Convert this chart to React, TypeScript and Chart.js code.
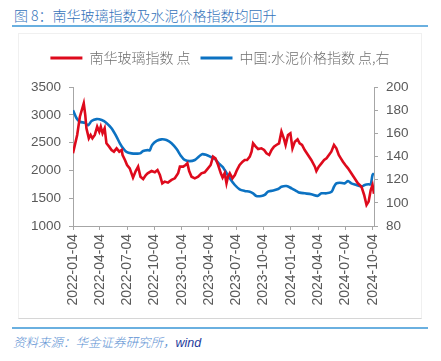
import React, { useEffect, useRef } from "react";
import { Chart, registerables } from "chart.js";

Chart.register(...registerables);

const TITLE = "图 8：南华玻璃指数及水泥价格指数均回升";
const SOURCE_A = "资料来源：华金证券研究所，";
const SOURCE_B = "wind";

const RED_LABEL = "南华玻璃指数 点";
const BLUE_LABEL = "中国:水泥价格指数 点,右";

const TICK_LABELS = [
  "2022-01-04", "2022-04-04", "2022-07-04", "2022-10-04",
  "2023-01-04", "2023-04-04", "2023-07-04", "2023-10-04",
  "2024-01-04", "2024-04-04", "2024-07-04", "2024-10-04",
];

const RED_DATES = [
  "2022-01-04", "2022-01-18", "2022-01-27", "2022-02-09", "2022-02-14", "2022-02-18", "2022-02-26",
  "2022-03-04", "2022-03-10", "2022-03-18", "2022-03-26", "2022-04-02", "2022-04-07", "2022-04-13",
  "2022-04-20", "2022-04-26", "2022-05-05", "2022-05-13", "2022-05-21", "2022-05-30", "2022-06-08",
  "2022-06-16", "2022-06-19", "2022-06-27", "2022-07-04", "2022-07-13", "2022-07-24", "2022-08-02",
  "2022-08-10", "2022-08-18", "2022-08-27", "2022-09-05", "2022-09-11", "2022-09-24", "2022-10-05",
  "2022-10-14", "2022-10-22", "2022-10-30", "2022-11-07", "2022-11-18", "2022-11-30", "2022-12-11",
  "2022-12-22", "2022-12-28", "2023-01-08", "2023-01-16", "2023-01-22", "2023-01-28", "2023-02-05",
  "2023-02-16", "2023-02-27", "2023-03-10", "2023-03-21", "2023-04-01", "2023-04-10", "2023-04-18",
  "2023-04-26", "2023-05-05", "2023-05-14", "2023-05-20", "2023-05-27", "2023-06-02", "2023-06-07",
  "2023-06-13", "2023-06-22", "2023-06-30", "2023-07-07", "2023-07-16", "2023-07-26", "2023-08-02",
  "2023-08-10", "2023-08-19", "2023-08-25", "2023-08-30", "2023-09-08", "2023-09-16", "2023-09-27",
  "2023-10-06", "2023-10-14", "2023-10-23", "2023-10-31", "2023-11-08", "2023-11-16", "2023-11-25",
  "2023-12-03", "2023-12-11", "2023-12-17", "2023-12-25", "2024-01-02", "2024-01-09", "2024-01-17",
  "2024-01-26", "2024-02-02", "2024-02-10", "2024-02-19", "2024-03-01", "2024-03-12", "2024-03-24",
  "2024-03-29", "2024-04-06", "2024-04-15", "2024-04-24", "2024-05-02", "2024-05-10", "2024-05-18",
  "2024-05-27", "2024-06-04", "2024-06-12", "2024-06-19", "2024-06-26", "2024-07-04", "2024-07-13",
  "2024-07-24", "2024-08-04", "2024-08-15", "2024-08-27", "2024-09-05", "2024-09-13", "2024-09-20",
  "2024-09-27", "2024-10-03", "2024-10-08",
];

const RED_VALUES = [
  2310, 2637, 2966, 3207, 3000, 2757, 2577,
  2637, 2577, 2637, 2786, 2697, 2786, 2667,
  2757, 2487, 2427, 2367, 2337, 2397, 2337,
  2367, 2277, 2187, 2097, 2037, 1869, 1989,
  2067, 1887, 1845, 1917, 1948, 1989, 1966,
  2007, 1917, 1768, 1798, 1780, 1828, 1858,
  1948, 2067, 2067, 2097, 2127, 1989, 1887,
  1858, 1887, 1948, 1966, 2037, 2097, 2247,
  2217, 2097, 1948, 1870, 1948, 1768, 1887,
  1948, 1858, 1917, 2007, 2097, 2157, 2187,
  2187, 2247, 2337, 2487, 2427, 2385, 2397,
  2367, 2307, 2277, 2367, 2427, 2457, 2487,
  2697, 2577, 2457, 2637, 2667, 2397, 2517,
  2560, 2487, 2457, 2367, 2277, 2187, 2067,
  1989, 2067, 2127, 2187, 2217, 2277, 2337,
  2457, 2397, 2277, 2217, 2157, 2097, 2037,
  1948, 1858, 1768, 1707, 1558, 1378, 1438,
  1648, 1738, 1580,
];

const BLUE_DATES = [
  "2022-01-04", "2022-01-16", "2022-01-27", "2022-02-13", "2022-02-24", "2022-03-07", "2022-03-24",
  "2022-04-10", "2022-04-26", "2022-05-13", "2022-05-30", "2022-06-10", "2022-06-21", "2022-07-02",
  "2022-07-19", "2022-08-05", "2022-08-16", "2022-08-27", "2022-09-11", "2022-09-18", "2022-09-26",
  "2022-10-11", "2022-10-27", "2022-11-13", "2022-11-30", "2022-12-17", "2022-12-31", "2023-01-13",
  "2023-01-30", "2023-02-16", "2023-03-01", "2023-03-12", "2023-03-27", "2023-04-09", "2023-04-24",
  "2023-05-07", "2023-05-20", "2023-05-27", "2023-06-13", "2023-06-30", "2023-07-16", "2023-08-02",
  "2023-08-19", "2023-08-30", "2023-09-10", "2023-09-27", "2023-10-08", "2023-10-19", "2023-11-05",
  "2023-11-22", "2023-12-03", "2023-12-20", "2024-01-06", "2024-01-26", "2024-02-02", "2024-02-19",
  "2024-03-12", "2024-04-02", "2024-04-15", "2024-05-02", "2024-05-19", "2024-05-27", "2024-06-04",
  "2024-06-15", "2024-07-02", "2024-07-13", "2024-07-24", "2024-08-10", "2024-08-27", "2024-09-07",
  "2024-09-20", "2024-09-27", "2024-10-03", "2024-10-08",
];

const BLUE_VALUES = [
  180, 173, 170, 169, 167, 170.6, 172.3,
  171.5, 169, 164.3, 157, 151.4, 147, 144,
  142.7, 142.5, 142.7, 144.7, 145.5, 145.3, 150,
  153.4, 154.8, 154.2, 151.5, 146.4, 140.7, 137,
  136, 137, 139.8, 142, 141.3, 139.8, 137.8,
  134, 131, 128.3, 121.2, 115.4, 111.7, 110.3,
  109.6, 108.2, 105.9, 105.9, 106.8, 109.6, 110.6,
  111.9, 113.9, 114.5, 112.5, 109.6, 108.8, 108.2,
  107.4, 106, 108.2, 108.2, 109.6, 113.9, 116.8,
  117.4, 116.8, 118.8, 116.8, 115.4, 114, 115.4,
  116, 116, 124, 125.5,
];

const X_START = "2022-01-04";
const X_END = "2024-10-08";

const dayNum = (s: string) => (Date.parse(s) - Date.parse(X_START)) / 86400000;

const FONT = '"Liberation Sans", Arial, "Noto Sans CJK SC", sans-serif';
const CJK = '"Noto Sans CJK SC", "Liberation Sans", sans-serif';
const RED = "#DE0A1C";
const BLUE = "#0C72C2";
const AXIS = "#A6A6A6";
const TEXT = "#595959";

export default function App() {
  const ref = useRef<HTMLCanvasElement | null>(null);

  useEffect(() => {
    if (!ref.current) return;
    const chart = new Chart(ref.current, {
      type: "line",
      data: {
        datasets: [
          {
            label: RED_LABEL,
            data: RED_DATES.map((d, i) => ({ x: dayNum(d), y: RED_VALUES[i] })),
            borderColor: RED,
            backgroundColor: RED,
            borderWidth: 2.6,
            pointRadius: 0,
            tension: 0,
            yAxisID: "y",
          },
          {
            label: BLUE_LABEL,
            data: BLUE_DATES.map((d, i) => ({ x: dayNum(d), y: BLUE_VALUES[i] })),
            borderColor: BLUE,
            backgroundColor: BLUE,
            borderWidth: 2.6,
            pointRadius: 0,
            tension: 0.3,
            yAxisID: "y1",
          },
        ],
      },
      options: {
        animation: false,
        responsive: false,
        maintainAspectRatio: false,
        layout: { padding: { top: 8, left: 0, right: 0, bottom: 0 } },
        plugins: {
          tooltip: { enabled: false },
          legend: {
            position: "top",
            labels: {
              boxWidth: 32,
              boxHeight: 3,
              padding: 10,
              color: "#707070",
              font: { family: CJK, size: 14, weight: "300" },
              generateLabels: (c: any) =>
                c.data.datasets.map((ds: any, i: number) => ({
                  text: ds.label,
                  fillStyle: ds.borderColor,
                  strokeStyle: ds.borderColor,
                  lineWidth: 0,
                  hidden: false,
                  datasetIndex: i,
                  fontColor: "#707070",
                })),
            },
          },
        },
        scales: {
          x: {
            type: "linear",
            min: 0,
            max: dayNum(X_END),
            afterBuildTicks: (s: any) => {
              s.ticks = TICK_LABELS.map((l) => ({ value: dayNum(l) }));
            },
            afterFit: (s: any) => {
              s.height = 92;
            },
            ticks: {
              autoSkip: false,
              maxRotation: 90,
              minRotation: 90,
              padding: 4,
              color: TEXT,
              font: { family: FONT, size: 14 },
              callback: (_v: any, i: number) => TICK_LABELS[i],
            },
            grid: { drawOnChartArea: false, tickLength: 4, color: AXIS },
            border: { color: AXIS },
          },
          y: {
            position: "left",
            min: 1000,
            max: 3500,
            afterFit: (s: any) => {
              s.width = 55;
            },
            ticks: {
              stepSize: 500,
              padding: 8,
              color: TEXT,
              font: { family: FONT, size: 13.5 },
              callback: (v: any) => String(v),
            },
            grid: { drawOnChartArea: false, tickLength: 4, color: AXIS },
            border: { color: AXIS },
          },
          y1: {
            position: "right",
            min: 80,
            max: 200,
            afterFit: (s: any) => {
              s.width = 48;
            },
            ticks: {
              stepSize: 20,
              padding: 8,
              color: TEXT,
              font: { family: FONT, size: 13.5 },
              callback: (v: any) => String(v),
            },
            grid: { drawOnChartArea: false, tickLength: 4, color: AXIS },
            border: { color: AXIS },
          },
        },
      },
      plugins: [
        {
          id: "legendGap",
          beforeInit(c: any) {
            const legend = c.legend;
            if (!legend) return;
            const orig = legend.fit;
            legend.fit = function () {
              orig.call(this);
              this.height += 12;
            };
          },
        },
      ],
    } as any);
    return () => chart.destroy();
  }, []);

  return (
    <div
      style={{
        position: "fixed",
        left: 0,
        top: 0,
        width: 441,
        height: 361,
        background: "#ffffff",
        overflow: "hidden",
      }}
    >
      <div
        style={{
          position: "absolute",
          left: 14,
          top: 5,
          fontFamily: CJK,
          fontSize: 14,
          fontWeight: 300,
          lineHeight: "20px",
          color: "#3473BA",
          whiteSpace: "nowrap",
        }}
      >
        {TITLE}
      </div>
      <div
        style={{
          position: "absolute",
          left: 12,
          top: 25,
          width: 416,
          height: 2,
          background: "#6AB0E0",
        }}
      />
      <div
        style={{
          position: "absolute",
          left: 18,
          top: 33,
          width: 404,
          height: 286,
          boxSizing: "border-box",
          border: "1px solid #F0F0F0",
          borderBottom: "1px solid #D6D6D6",
        }}
      />
      <canvas
        ref={ref}
        width={404}
        height={285}
        style={{ position: "absolute", left: 18, top: 33, width: 404, height: 285 }}
      />
      <div
        style={{
          position: "absolute",
          left: 12,
          top: 327,
          width: 416,
          height: 2,
          background: "#6AB0E0",
        }}
      />
      <div
        style={{
          position: "absolute",
          left: 13,
          top: 333,
          fontSize: 12.5,
          lineHeight: "18px",
          fontStyle: "italic",
          whiteSpace: "nowrap",
          fontFamily: CJK,
          fontWeight: 300,
        }}
      >
        <span style={{ color: "#5A8FD2" }}>{SOURCE_A}</span>
        <span style={{ color: "#1F3C9C", fontFamily: FONT, fontWeight: 400 }}>{SOURCE_B}</span>
      </div>
    </div>
  );
}
